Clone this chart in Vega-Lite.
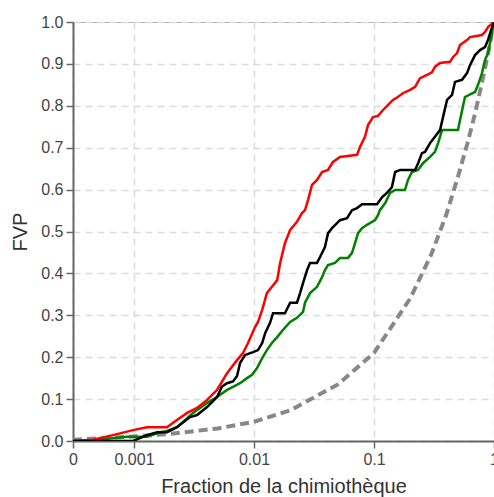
{
  "$schema": "https://vega.github.io/schema/vega-lite/v6.json",
  "width": 421,
  "height": 419,
  "autosize": "none",
  "padding": {"left": 73, "top": 22, "right": 0, "bottom": 56},
  "background": "white",
  "view": {"stroke": "#b0b0b0", "strokeWidth": 1},
  "config": {
    "font": "Liberation Sans",
    "axis": {
      "domainColor": "#666666",
      "domainWidth": 2,
      "tickColor": "#666666",
      "tickWidth": 1.5,
      "tickSize": 7,
      "labelFont": "Liberation Sans",
      "labelFontSize": 16,
      "labelColor": "#444444",
      "labelPadding": 3,
      "titleFont": "Liberation Sans",
      "titleFontSize": 20,
      "titleFontWeight": "normal",
      "titleColor": "#333333",
      "gridColor": "#dcdcdc",
      "gridDash": [7, 5],
      "gridWidth": 1.5
    }
  },
  "layer": [
    {
      "data": {"values": [
        {"x": 0.00031, "y": 0.003}, {"x": 0.001, "y": 0.011}, {"x": 0.002, "y": 0.017},
        {"x": 0.005, "y": 0.03}, {"x": 0.01, "y": 0.046}, {"x": 0.02, "y": 0.073},
        {"x": 0.05, "y": 0.135}, {"x": 0.1, "y": 0.21}, {"x": 0.2, "y": 0.34},
        {"x": 0.3, "y": 0.445}, {"x": 0.4, "y": 0.54}, {"x": 0.5, "y": 0.63},
        {"x": 0.6, "y": 0.71}, {"x": 0.7, "y": 0.785}, {"x": 0.8, "y": 0.86},
        {"x": 0.9, "y": 0.93}, {"x": 1, "y": 1.0}
      ]},
      "mark": {"type": "line", "color": "#888888", "strokeWidth": 4, "strokeDash": [9, 5], "clip": true},
      "encoding": {
        "x": {
          "field": "x", "type": "quantitative",
          "scale": {"type": "log", "domain": [0.00031, 1], "nice": false},
          "axis": {
            "title": "Fraction de la chimiothèque",
            "titlePadding": 9,
            "values": [0.00031, 0.001, 0.01, 0.1, 1],
            "labelExpr": "datum.value < 0.0005 ? '0' : format(datum.value, '~g')",
            "labelFlush": false,
            "labelOverlap": false
          }
        },
        "y": {
          "field": "y", "type": "quantitative",
          "scale": {"domain": [0, 1], "nice": false},
          "axis": {
            "title": "FVP",
            "titlePadding": 10,
            "values": [0, 0.1, 0.2, 0.3, 0.4, 0.5, 0.6, 0.7, 0.8, 0.9, 1.0],
            "format": ".1f",
            "labelFlush": false,
            "labelOverlap": false
          }
        }
      }
    },
    {
      "data": {"values": [
        {"series": "vert", "x": 0.00031, "y": 0}, {"series": "vert", "x": 0.000455, "y": 0.002},
        {"series": "vert", "x": 0.000874, "y": 0.01}, {"series": "vert", "x": 0.00128, "y": 0.01},
        {"series": "vert", "x": 0.00165, "y": 0.021}, {"series": "vert", "x": 0.00188, "y": 0.024},
        {"series": "vert", "x": 0.00228, "y": 0.033}, {"series": "vert", "x": 0.0031, "y": 0.067},
        {"series": "vert", "x": 0.00355, "y": 0.079}, {"series": "vert", "x": 0.00406, "y": 0.091},
        {"series": "vert", "x": 0.00492, "y": 0.105}, {"series": "vert", "x": 0.00596, "y": 0.122},
        {"series": "vert", "x": 0.00668, "y": 0.129}, {"series": "vert", "x": 0.00765, "y": 0.138},
        {"series": "vert", "x": 0.00874, "y": 0.15}, {"series": "vert", "x": 0.00962, "y": 0.158},
        {"series": "vert", "x": 0.0106, "y": 0.174}, {"series": "vert", "x": 0.0117, "y": 0.198},
        {"series": "vert", "x": 0.0128, "y": 0.217}, {"series": "vert", "x": 0.0141, "y": 0.234},
        {"series": "vert", "x": 0.0156, "y": 0.248}, {"series": "vert", "x": 0.0174, "y": 0.265},
        {"series": "vert", "x": 0.02, "y": 0.284}, {"series": "vert", "x": 0.0228, "y": 0.294},
        {"series": "vert", "x": 0.0256, "y": 0.308}, {"series": "vert", "x": 0.0266, "y": 0.33},
        {"series": "vert", "x": 0.0293, "y": 0.353}, {"series": "vert", "x": 0.0335, "y": 0.368},
        {"series": "vert", "x": 0.0369, "y": 0.391}, {"series": "vert", "x": 0.039, "y": 0.408},
        {"series": "vert", "x": 0.0414, "y": 0.42}, {"series": "vert", "x": 0.0473, "y": 0.425},
        {"series": "vert", "x": 0.0521, "y": 0.437}, {"series": "vert", "x": 0.0607, "y": 0.437},
        {"series": "vert", "x": 0.0656, "y": 0.449}, {"series": "vert", "x": 0.0695, "y": 0.472},
        {"series": "vert", "x": 0.0736, "y": 0.496}, {"series": "vert", "x": 0.0794, "y": 0.508},
        {"series": "vert", "x": 0.0874, "y": 0.516}, {"series": "vert", "x": 0.102, "y": 0.527},
        {"series": "vert", "x": 0.108, "y": 0.539}, {"series": "vert", "x": 0.112, "y": 0.551},
        {"series": "vert", "x": 0.124, "y": 0.568}, {"series": "vert", "x": 0.136, "y": 0.592},
        {"series": "vert", "x": 0.15, "y": 0.599}, {"series": "vert", "x": 0.181, "y": 0.599},
        {"series": "vert", "x": 0.192, "y": 0.623}, {"series": "vert", "x": 0.207, "y": 0.642},
        {"series": "vert", "x": 0.233, "y": 0.647}, {"series": "vert", "x": 0.256, "y": 0.663},
        {"series": "vert", "x": 0.293, "y": 0.678}, {"series": "vert", "x": 0.322, "y": 0.69},
        {"series": "vert", "x": 0.342, "y": 0.711}, {"series": "vert", "x": 0.369, "y": 0.742},
        {"series": "vert", "x": 0.501, "y": 0.742}, {"series": "vert", "x": 0.521, "y": 0.766},
        {"series": "vert", "x": 0.573, "y": 0.821}, {"series": "vert", "x": 0.695, "y": 0.833},
        {"series": "vert", "x": 0.736, "y": 0.85}, {"series": "vert", "x": 0.794, "y": 0.878},
        {"series": "vert", "x": 0.841, "y": 0.909}, {"series": "vert", "x": 0.891, "y": 0.926},
        {"series": "vert", "x": 0.926, "y": 0.95}, {"series": "vert", "x": 1, "y": 1.0},

        {"series": "rouge", "x": 0.00031, "y": 0}, {"series": "rouge", "x": 0.000455, "y": 0.003},
        {"series": "rouge", "x": 0.000668, "y": 0.014}, {"series": "rouge", "x": 0.00098, "y": 0.026},
        {"series": "rouge", "x": 0.00128, "y": 0.033}, {"series": "rouge", "x": 0.00188, "y": 0.033},
        {"series": "rouge", "x": 0.00228, "y": 0.05}, {"series": "rouge", "x": 0.00277, "y": 0.067},
        {"series": "rouge", "x": 0.00335, "y": 0.079}, {"series": "rouge", "x": 0.00406, "y": 0.098},
        {"series": "rouge", "x": 0.00492, "y": 0.122}, {"series": "rouge", "x": 0.00596, "y": 0.162},
        {"series": "rouge", "x": 0.00722, "y": 0.193}, {"series": "rouge", "x": 0.00809, "y": 0.21},
        {"series": "rouge", "x": 0.00891, "y": 0.234}, {"series": "rouge", "x": 0.0102, "y": 0.272},
        {"series": "rouge", "x": 0.0108, "y": 0.284}, {"series": "rouge", "x": 0.0117, "y": 0.313},
        {"series": "rouge", "x": 0.0128, "y": 0.353}, {"series": "rouge", "x": 0.0141, "y": 0.368},
        {"series": "rouge", "x": 0.0156, "y": 0.384}, {"series": "rouge", "x": 0.0165, "y": 0.425},
        {"series": "rouge", "x": 0.0181, "y": 0.472}, {"series": "rouge", "x": 0.02, "y": 0.504},
        {"series": "rouge", "x": 0.0228, "y": 0.523}, {"series": "rouge", "x": 0.0251, "y": 0.544},
        {"series": "rouge", "x": 0.0266, "y": 0.551}, {"series": "rouge", "x": 0.0282, "y": 0.575},
        {"series": "rouge", "x": 0.0304, "y": 0.611}, {"series": "rouge", "x": 0.0335, "y": 0.623},
        {"series": "rouge", "x": 0.0369, "y": 0.642}, {"series": "rouge", "x": 0.0414, "y": 0.647},
        {"series": "rouge", "x": 0.0455, "y": 0.666}, {"series": "rouge", "x": 0.0521, "y": 0.678},
        {"series": "rouge", "x": 0.0722, "y": 0.683}, {"series": "rouge", "x": 0.0765, "y": 0.702},
        {"series": "rouge", "x": 0.0841, "y": 0.726}, {"series": "rouge", "x": 0.0891, "y": 0.754},
        {"series": "rouge", "x": 0.0981, "y": 0.773}, {"series": "rouge", "x": 0.108, "y": 0.776},
        {"series": "rouge", "x": 0.119, "y": 0.79}, {"series": "rouge", "x": 0.131, "y": 0.802},
        {"series": "rouge", "x": 0.144, "y": 0.814}, {"series": "rouge", "x": 0.158, "y": 0.821},
        {"series": "rouge", "x": 0.174, "y": 0.83}, {"series": "rouge", "x": 0.2, "y": 0.838},
        {"series": "rouge", "x": 0.22, "y": 0.845}, {"series": "rouge", "x": 0.242, "y": 0.866},
        {"series": "rouge", "x": 0.277, "y": 0.874}, {"series": "rouge", "x": 0.304, "y": 0.88},
        {"series": "rouge", "x": 0.322, "y": 0.893}, {"series": "rouge", "x": 0.355, "y": 0.902},
        {"series": "rouge", "x": 0.43, "y": 0.905}, {"series": "rouge", "x": 0.455, "y": 0.916},
        {"series": "rouge", "x": 0.492, "y": 0.926}, {"series": "rouge", "x": 0.521, "y": 0.945},
        {"series": "rouge", "x": 0.596, "y": 0.957}, {"series": "rouge", "x": 0.631, "y": 0.964},
        {"series": "rouge", "x": 0.794, "y": 0.969}, {"series": "rouge", "x": 0.841, "y": 0.976},
        {"series": "rouge", "x": 0.891, "y": 0.988}, {"series": "rouge", "x": 1, "y": 1.0},

        {"series": "noir", "x": 0.00031, "y": 0}, {"series": "noir", "x": 0.00098, "y": 0},
        {"series": "noir", "x": 0.00128, "y": 0.014}, {"series": "noir", "x": 0.00156, "y": 0.021},
        {"series": "noir", "x": 0.00188, "y": 0.021}, {"series": "noir", "x": 0.00228, "y": 0.033},
        {"series": "noir", "x": 0.00293, "y": 0.057}, {"series": "noir", "x": 0.00335, "y": 0.062},
        {"series": "noir", "x": 0.00406, "y": 0.081}, {"series": "noir", "x": 0.00492, "y": 0.105},
        {"series": "noir", "x": 0.00541, "y": 0.13}, {"series": "noir", "x": 0.00596, "y": 0.138},
        {"series": "noir", "x": 0.00668, "y": 0.142}, {"series": "noir", "x": 0.00722, "y": 0.155},
        {"series": "noir", "x": 0.00765, "y": 0.186}, {"series": "noir", "x": 0.00841, "y": 0.205},
        {"series": "noir", "x": 0.00981, "y": 0.212}, {"series": "noir", "x": 0.0108, "y": 0.217},
        {"series": "noir", "x": 0.0117, "y": 0.234}, {"series": "noir", "x": 0.0124, "y": 0.258},
        {"series": "noir", "x": 0.0136, "y": 0.282}, {"series": "noir", "x": 0.0144, "y": 0.305},
        {"series": "noir", "x": 0.0181, "y": 0.305}, {"series": "noir", "x": 0.02, "y": 0.33},
        {"series": "noir", "x": 0.0228, "y": 0.33}, {"series": "noir", "x": 0.0242, "y": 0.353},
        {"series": "noir", "x": 0.0256, "y": 0.377}, {"series": "noir", "x": 0.0277, "y": 0.408},
        {"series": "noir", "x": 0.0293, "y": 0.425}, {"series": "noir", "x": 0.0335, "y": 0.425},
        {"series": "noir", "x": 0.0355, "y": 0.439}, {"series": "noir", "x": 0.039, "y": 0.463},
        {"series": "noir", "x": 0.0414, "y": 0.496}, {"series": "noir", "x": 0.0447, "y": 0.508},
        {"series": "noir", "x": 0.0492, "y": 0.52}, {"series": "noir", "x": 0.0521, "y": 0.527},
        {"series": "noir", "x": 0.0596, "y": 0.532}, {"series": "noir", "x": 0.0656, "y": 0.551},
        {"series": "noir", "x": 0.0722, "y": 0.556}, {"series": "noir", "x": 0.0794, "y": 0.565},
        {"series": "noir", "x": 0.106, "y": 0.565}, {"series": "noir", "x": 0.117, "y": 0.582},
        {"series": "noir", "x": 0.128, "y": 0.592}, {"series": "noir", "x": 0.141, "y": 0.606},
        {"series": "noir", "x": 0.15, "y": 0.642}, {"series": "noir", "x": 0.165, "y": 0.647},
        {"series": "noir", "x": 0.22, "y": 0.647}, {"series": "noir", "x": 0.233, "y": 0.663},
        {"series": "noir", "x": 0.251, "y": 0.687}, {"series": "noir", "x": 0.266, "y": 0.69},
        {"series": "noir", "x": 0.293, "y": 0.711}, {"series": "noir", "x": 0.322, "y": 0.726},
        {"series": "noir", "x": 0.355, "y": 0.742}, {"series": "noir", "x": 0.376, "y": 0.773},
        {"series": "noir", "x": 0.406, "y": 0.814}, {"series": "noir", "x": 0.447, "y": 0.826},
        {"series": "noir", "x": 0.473, "y": 0.857}, {"series": "noir", "x": 0.541, "y": 0.862},
        {"series": "noir", "x": 0.596, "y": 0.878}, {"series": "noir", "x": 0.631, "y": 0.897},
        {"series": "noir", "x": 0.695, "y": 0.921}, {"series": "noir", "x": 0.765, "y": 0.933},
        {"series": "noir", "x": 0.841, "y": 0.94}, {"series": "noir", "x": 0.891, "y": 0.957},
        {"series": "noir", "x": 0.944, "y": 0.98}, {"series": "noir", "x": 1, "y": 1.0}
      ]},
      "mark": {"type": "line", "strokeWidth": 2.5, "clip": true},
      "encoding": {
        "x": {"field": "x", "type": "quantitative"},
        "y": {"field": "y", "type": "quantitative"},
        "color": {
          "field": "series", "type": "nominal",
          "scale": {"domain": ["vert", "rouge", "noir"], "range": ["#008000", "#ff0000", "#000000"]},
          "legend": null
        },
        "order": {"field": "x", "type": "quantitative"}
      }
    },
    {
      "mark": {"type": "rule", "color": "#666666", "strokeWidth": 2},
      "encoding": {"y": {"datum": 1}}
    }
  ]
}
